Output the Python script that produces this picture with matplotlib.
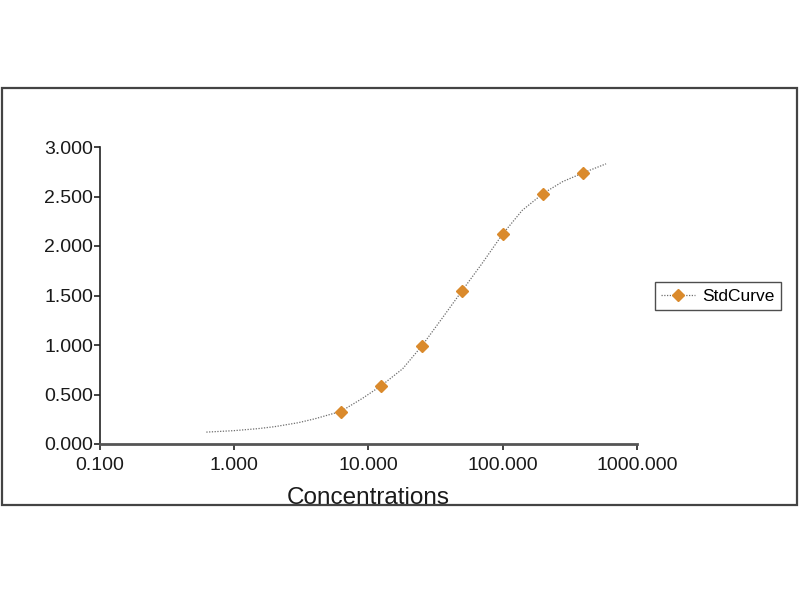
import matplotlib.pyplot as plt
from matplotlib.lines import Line2D
from matplotlib.patches import Rectangle
from matplotlib.ticker import FixedLocator, NullLocator

plt.rcParams['font.family'] = ['Liberation Sans', 'DejaVu Sans']

# standard points
std_conc = [6.25, 12.5, 25, 50, 100, 200, 400]
std_od = [0.32, 0.59, 0.99, 1.55, 2.12, 2.53, 2.74]

# fitted curve
fit_conc = [0.62, 1.0, 1.5, 2.0, 3.0, 4.0, 6.25, 9.0, 12.5, 18, 25, 35, 50,
            70, 100, 140, 200, 280, 400, 590]
fit_od = [0.12, 0.135, 0.155, 0.175, 0.215, 0.255, 0.33, 0.46, 0.59, 0.76,
          0.99, 1.26, 1.55, 1.82, 2.12, 2.36, 2.53, 2.65, 2.74, 2.83]

x_ticks = [0.1, 1, 10, 100, 1000]
x_labels = ["0.100", "1.000", "10.000", "100.000", "1000.000"]
y_ticks = [0, 0.5, 1.0, 1.5, 2.0, 2.5, 3.0]
y_labels = ["0.000", "0.500", "1.000", "1.500", "2.000", "2.500", "3.000"]

orange = "#DA8A2C"
grey = "#6E6E6E"

fig = plt.figure(figsize=(8, 6), dpi=100)
fig.patches.append(Rectangle((2 / 800, 95 / 600), 795 / 800, 417 / 600,
                             transform=fig.transFigure, fill=False,
                             edgecolor="#444444", linewidth=1.6))

ax = fig.add_axes([0.125, 0.26, 0.671, 0.495])
ax.plot(fit_conc, fit_od, linestyle=(0, (1, 1.2)), color=grey, linewidth=0.9)
ax.plot(std_conc, std_od, linestyle="none", marker="D", markersize=6.5,
        color=orange, markeredgecolor=orange)

ax.set_xscale("log")
ax.set_xlim(0.1, 1000)
ax.set_ylim(0, 3)
ax.xaxis.set_major_locator(FixedLocator(x_ticks))
ax.xaxis.set_minor_locator(NullLocator())
ax.set_xticks(x_ticks)
ax.set_xticklabels(x_labels)
ax.set_yticks(y_ticks)
ax.set_yticklabels(y_labels)
ax.tick_params(labelsize=14, length=4, width=1.2, color="#222222",
               labelcolor="#1a1a1a")
ax.tick_params(axis="x", pad=5)
ax.tick_params(axis="y", pad=1)

for s in ["top", "right"]:
    ax.spines[s].set_visible(False)
ax.spines["left"].set_color("#222222")
ax.spines["left"].set_linewidth(1.2)
ax.spines["bottom"].set_color("#555555")
ax.spines["bottom"].set_linewidth(2)

ax.set_xlabel("Concentrations", fontsize=17.5, color="#1a1a1a", labelpad=10)

handle = Line2D([], [], linestyle=(0, (1, 1.2)), color=grey, linewidth=0.9,
                marker="D", markersize=6.5, markerfacecolor=orange,
                markeredgecolor=orange)
leg = fig.legend([handle], ["StdCurve"], loc="center left",
                 bbox_to_anchor=(646 / 800, 1 - 296 / 600), fontsize=12.5,
                 frameon=True, fancybox=False, handlelength=2.0,
                 borderpad=0.35, handletextpad=0.4)
leg.get_frame().set_edgecolor("#222222")
leg.get_frame().set_linewidth(1.0)

fig.savefig("out.png", dpi=100)
